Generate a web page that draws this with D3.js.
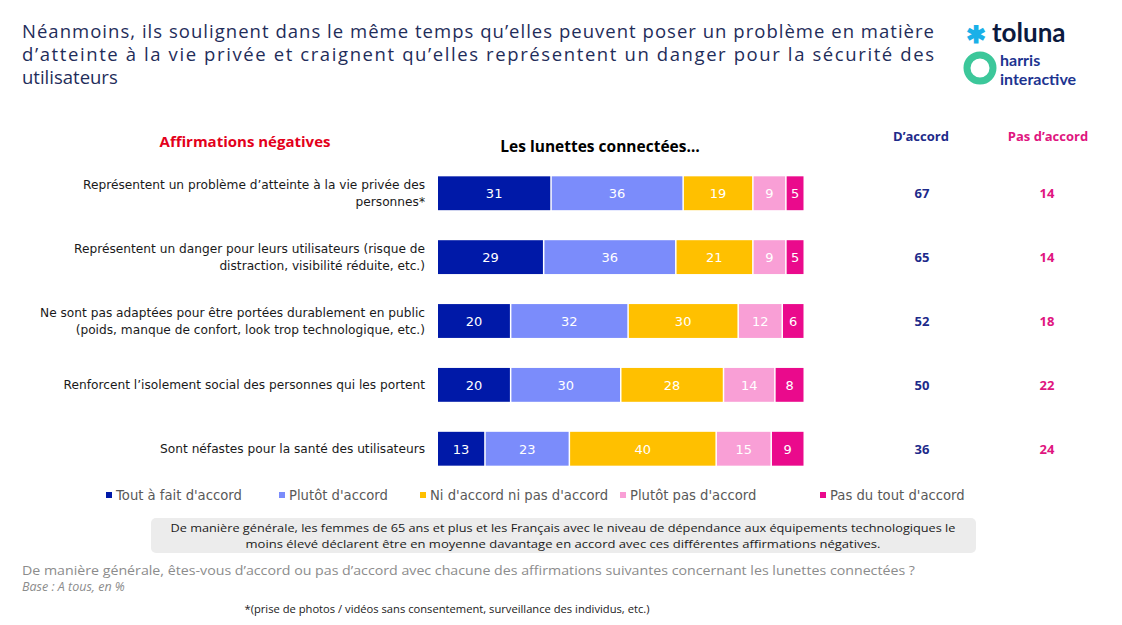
<!DOCTYPE html>
<html><head><meta charset="utf-8">
<script src="https://cdn.jsdelivr.net/npm/d3@7/dist/d3.min.js"></script>
<style>body{margin:0;background:#fff;font-family:'Open Sans',sans-serif}</style>
</head><body><svg id="c" width="1122" height="625"></svg>
<script>
const categories=[
 ["Représentent un problème d’atteinte à la vie privée des","personnes*"],
 ["Représentent un danger pour leurs utilisateurs (risque de","distraction, visibilité réduite, etc.)"],
 ["Ne sont pas adaptées pour être portées durablement en public","(poids, manque de confort, look trop technologique, etc.)"],
 ["Renforcent l’isolement social des personnes qui les portent"],
 ["Sont néfastes pour la santé des utilisateurs"]];
const seriesNames=["Tout à fait d'accord","Plutôt d'accord","Ni d'accord ni pas d'accord","Plutôt pas d'accord","Pas du tout d'accord"];
const toutAFait=[31,29,20,20,13];
const plutot=[36,36,32,30,23];
const ni=[19,21,30,28,40];
const plutotPas=[9,9,12,14,15];
const pasDuTout=[5,5,6,8,9];
const daccord=[67,65,52,50,36];
const pasDaccord=[14,14,18,22,24];
const colors=["#0019a8","#7b8cfb","#ffc000","#f99fd6","#ea0a8c"];
const svg=d3.select("#c");
const series=[toutAFait,plutot,ni,plutotPas,pasDuTout];
const x=d3.scaleLinear().domain([0,100]).range([438,805]);
const y=d3.scaleBand().domain(d3.range(5)).range([161,481]).paddingInner(0.47).paddingOuter(0.24);
const body="'DejaVu Sans', sans-serif";
const title=["Néanmoins, ils soulignent dans le même temps qu’elles peuvent poser un problème en matière","d’atteinte à la vie privée et craignent qu’elles représentent un danger pour la sécurité des","utilisateurs"];
title.forEach((t,i)=>{const e=svg.append("text").attr("x",22).attr("y",38+i*23).attr("font-size",18.5).attr("fill","#1f2d5a").text(t);
 if(i<2)e.attr("textLength",912).attr("lengthAdjust","spacing");});
const lg=svg.append("g").attr("font-family","Lato").attr("font-weight","bold");
lg.append("text").attr("x",992).attr("y",42).attr("font-size",26).attr("fill","#0b1a3f").text("toluna");
lg.append("text").attr("x",976).attr("y",43).attr("font-size",24).attr("fill","#1ab0e8").attr("text-anchor","middle").text("✱");
lg.append("circle").attr("cx",980).attr("cy",68).attr("r",13).attr("fill","none").attr("stroke","#3cc79a").attr("stroke-width",7);
lg.append("text").attr("x",1000).attr("y",66).attr("font-size",16).attr("fill","#1d3490").text("harris");
lg.append("text").attr("x",1000).attr("y",85).attr("font-size",16).attr("fill","#1d3490").text("interactive");
svg.append("text").attr("x",245).attr("y",147).attr("text-anchor","middle").attr("font-size",15).attr("font-weight","bold").attr("fill","#e3001b").text("Affirmations négatives");
svg.append("text").attr("x",600).attr("y",152).attr("text-anchor","middle").attr("font-size",15.5).attr("font-weight","bold").attr("fill","#000").text("Les lunettes connectées…");
svg.append("text").attr("x",921).attr("y",141).attr("text-anchor","middle").attr("font-size",13).attr("font-weight","bold").attr("fill","#1d2a8a").text("D’accord");
svg.append("text").attr("x",1048).attr("y",141).attr("text-anchor","middle").attr("font-size",13).attr("font-weight","bold").attr("fill","#e0157f").text("Pas d’accord");
const stack=d3.stack().keys(d3.range(5))(d3.range(5).map(i=>{const o={};series.forEach((s,k)=>o[k]=s[i]);return o;}));
stack.forEach((layer,k)=>{
 const g=svg.append("g");
 layer.forEach((d,i)=>{
  g.append("rect").attr("x",x(d[0])).attr("y",y(i)).attr("width",x(d[1])-x(d[0])-1.5).attr("height",y.bandwidth()).attr("fill",colors[k]);
  g.append("text").attr("x",(x(d[0])+x(d[1]))/2-0.75).attr("y",y(i)+y.bandwidth()/2+5).attr("text-anchor","middle").attr("font-size",13).attr("font-family",body).attr("fill","#fff").text(d[1]-d[0]);
 });
});
categories.forEach((c,i)=>{
 const cy=y(i)+y.bandwidth()/2;
 c.forEach((l,j)=>svg.append("text").attr("x",425).attr("y",cy+4-(c.length-1)*8.5+j*17).attr("text-anchor","end").attr("font-size",12.2).attr("font-family",body).attr("fill","#1a1a1a").text(l));
 svg.append("text").attr("x",922).attr("y",cy+5).attr("text-anchor","middle").attr("font-size",13).attr("font-weight","bold").attr("fill","#1d2a8a").text(daccord[i]);
 svg.append("text").attr("x",1047).attr("y",cy+5).attr("text-anchor","middle").attr("font-size",13).attr("font-weight","bold").attr("fill","#e0157f").text(pasDaccord[i]);
});
const lx=[106,279,420,620,820];
seriesNames.forEach((n,k)=>{
 svg.append("rect").attr("x",lx[k]).attr("y",492).attr("width",6).attr("height",6).attr("fill",colors[k]);
 svg.append("text").attr("x",lx[k]+10).attr("y",500).attr("font-size",13.2).attr("font-family",body).attr("fill","#595959").text(n);
});
svg.append("rect").attr("x",151).attr("y",518).attr("width",825).attr("height",35).attr("rx",5).attr("fill","#ececec");
svg.append("text").attr("x",563).attr("y",532).attr("text-anchor","middle").attr("font-size",11.5).attr("fill","#1a1a1a").text("De manière générale, les femmes de 65 ans et plus et les Français avec le niveau de dépendance aux équipements technologiques le").attr("textLength",785).attr("lengthAdjust","spacingAndGlyphs");
svg.append("text").attr("x",563).attr("y",548).attr("text-anchor","middle").attr("font-size",11.5).attr("fill","#1a1a1a").text("moins élevé déclarent être en moyenne davantage en accord avec ces différentes affirmations négatives.").attr("textLength",635).attr("lengthAdjust","spacingAndGlyphs");
svg.append("text").attr("x",22).attr("y",575).attr("font-size",12.5).attr("fill","#8c8c8c").text("De manière générale, êtes-vous d’accord ou pas d’accord avec chacune des affirmations suivantes concernant les lunettes connectées ?").attr("textLength",893).attr("lengthAdjust","spacingAndGlyphs");
svg.append("text").attr("x",22).attr("y",591).attr("font-size",12.5).attr("font-style","italic").attr("fill","#8c8c8c").text("Base : A tous, en %");
svg.append("text").attr("x",447).attr("y",613).attr("text-anchor","middle").attr("font-size",11).attr("fill","#1a1a1a").text("*(prise de photos / vidéos sans consentement, surveillance des individus, etc.)").attr("textLength",405).attr("lengthAdjust","spacingAndGlyphs");
</script></body></html>
